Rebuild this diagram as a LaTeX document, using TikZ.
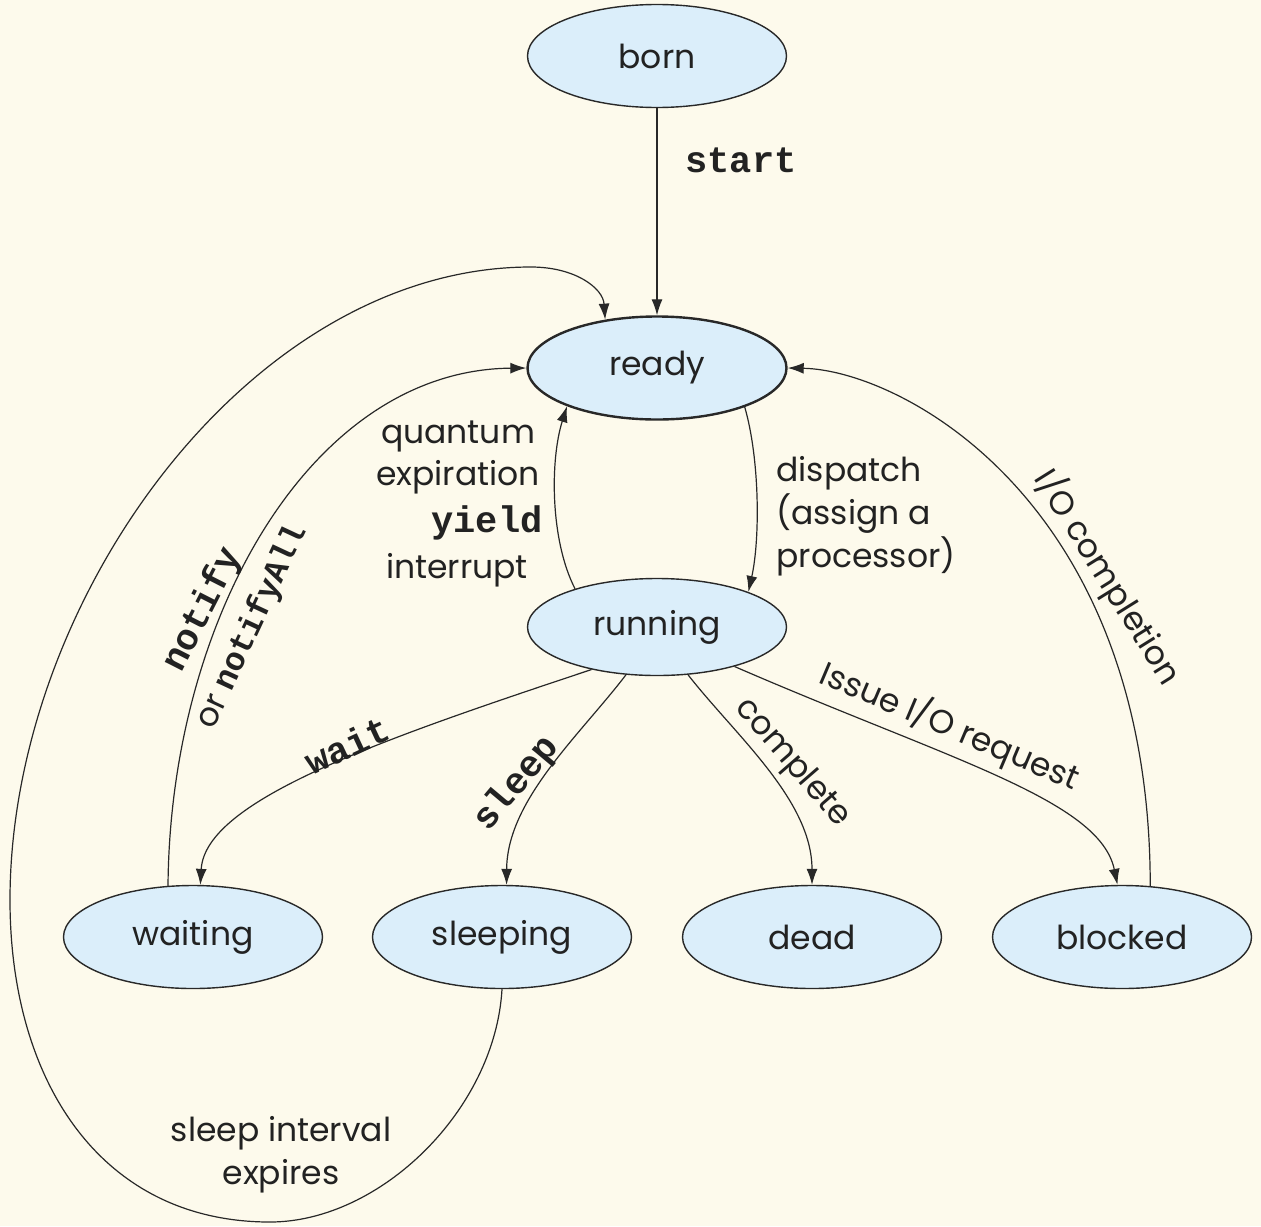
\documentclass[tikz,border=0pt]{standalone}
\usepackage{fontspec}
\setmainfont{Poppins}
\newfontfamily\codefont{Liberation Mono}
\usetikzlibrary{arrows.meta,shapes.geometric}
\definecolor{bgc}{RGB}{253,250,236}
\definecolor{nodefill}{RGB}{219,238,250}
\definecolor{txt}{RGB}{34,34,34}
\definecolor{edgec}{RGB}{40,40,40}
\begin{document}
\begin{tikzpicture}[x=0.5pt,y=-0.5pt,
  state/.style={ellipse,draw=edgec,line width=0.7pt,fill=nodefill,minimum width=129.5pt,minimum height=51.5pt,inner sep=0pt,font=\fontsize{16.5}{20}\selectfont,text=txt},
  conn/.style={draw=edgec,line width=0.6pt,-{Latex[length=8pt,width=5.5pt]}},
  lbl/.style={font=\fontsize{16.5}{21.5}\selectfont,text=txt,inner sep=0pt},
  code/.style={font=\codefont\bfseries\fontsize{18.5}{21}\selectfont,text=txt,inner sep=0pt}]
\path[use as bounding box,fill=bgc] (0,0) rectangle (1261,1226);

\node[state] (born) at (657,56) {born};
\node[state,line width=1.2pt] (ready) at (657,368) {ready};
\node[state,minimum height=48.5pt] (running) at (657,627) {running};
\node[state] (waiting) at (193,937) {waiting};
\node[state] (sleeping) at (502,937) {sleeping};
\node[state] (dead) at (812,937) {dead};
\node[state] (blocked) at (1122,937) {blocked};

\coordinate (lowturn) at (270,1222);
\coordinate (leftturn) at (10,900);
\coordinate (topturn) at (531,267);

\draw[conn] (born) -- (ready);
\draw[conn] (running.155) .. controls (550,540) and (550,460) .. (ready.203);
\draw[conn] (ready.336) .. controls (760,460) and (760,540) .. (running.21);
\draw[conn] (running.213) .. controls (380,740) and (205,800) .. (waiting.82);
\draw[conn] (running.237) .. controls (580,735) and (507,800) .. (sleeping.85);
\draw[conn] (running.303) .. controls (735,735) and (812,800) .. (dead.north);
\draw[conn] (running.333) .. controls (950,760) and (1100,800) .. (blocked.95);
\draw[conn] (blocked.61) .. controls (1150,500) and (900,370) .. (ready.east);
\draw[conn] (waiting.116) .. controls (170,620) and (310,370) .. (ready.west);
\draw[conn] (sleeping.south) .. controls (495,1110) and (380,1222) .. (lowturn)
   .. controls (100,1222) and (10,1080) .. (leftturn)
   .. controls (10,600) and (250,267) .. (topturn)
   .. controls (575,267) and (603,288) .. (ready.137);

\node[code] (lstart) at (741,160) {start};
\node[lbl] (lquantum) at (458,436) {quantum};
\node[lbl] (lexp) at (458,477) {expiration};
\node[code] (lyield) at (487,523) {yield};
\node[lbl] (lint) at (457,570) {interrupt};
\node[lbl,align=left,anchor=west] (ldispatch) at (776,516) {dispatch\\(assign a\\processor)};
\node[lbl,align=center] (lsleepint) at (281,1155) {sleep interval\\expires};
\node[code,rotate=63] (lnotify) at (203,610) {notify};
\node[lbl,rotate=65] (lnotifyall) at (252,627) {or {\codefont\bfseries notifyAll}};
\node[code,rotate=25] (lwait) at (347,745) {wait};
\node[code,rotate=50] (lsleep) at (517,784) {sleep};
\node[lbl,rotate=-49] (lcomplete) at (792,763) {complete};
\node[lbl,rotate=-23] (lissue) at (950,726) {Issue I/O request};
\node[lbl,rotate=-58] (lio) at (1108,577) {I/O completion};
\end{tikzpicture}
\end{document}
